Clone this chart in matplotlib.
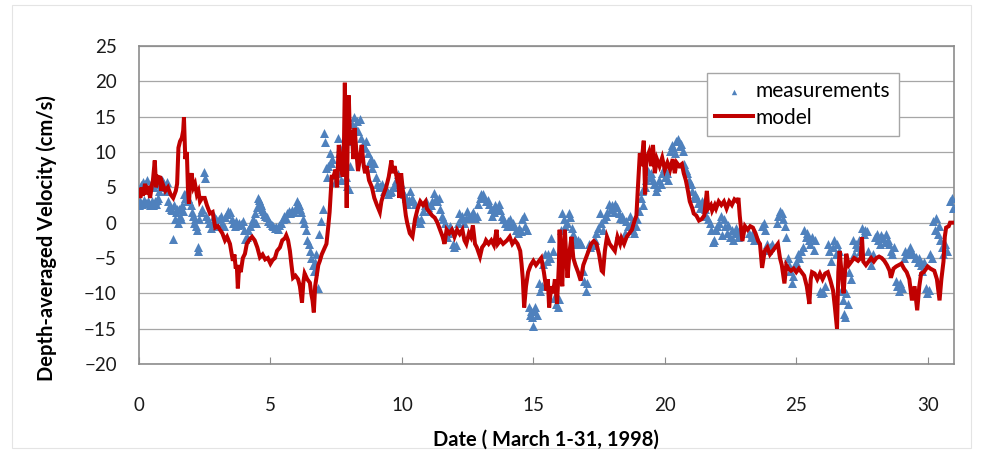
import matplotlib
matplotlib.use("Agg")
import matplotlib.pyplot as plt
from matplotlib.patches import Rectangle

# ---------------- data ----------------
model_day = [
 0.0,0.05,0.1,0.15,0.23,0.3,0.35,0.42,0.5,0.53,0.6,0.65,0.72,0.8,0.85,0.9,1.0,1.1,1.2,1.3,1.4,1.45,1.5,1.56,1.63,1.68,1.71,1.76,1.82,1.86,1.9,1.95,
 2.0,2.07,2.13,2.2,2.26,2.32,2.4,2.5,2.58,2.7,2.8,2.9,3.0,3.08,3.17,3.27,3.35,3.46,3.57,3.63,3.68,3.72,3.76,3.81,3.87,3.95,
 4.03,4.1,4.22,4.3,4.4,4.5,4.6,4.7,4.8,4.9,5.0,5.08,5.17,5.25,5.36,5.45,5.55,5.6,5.67,5.74,5.8,5.86,5.95,
 6.05,6.12,6.2,6.25,6.3,6.4,6.5,6.55,6.6,6.65,6.7,6.76,6.82,6.88,6.95,7.07,7.13,7.2,7.25,7.33,7.4,7.47,7.53,7.6,7.68,7.75,7.8,7.83,7.87,7.9,7.94,7.98,
 8.03,8.1,8.15,8.2,8.27,8.33,8.4,8.47,8.55,8.6,8.66,8.75,8.86,8.95,9.05,9.16,9.22,9.3,9.4,9.5,9.6,9.65,9.72,9.8,9.85,9.9,9.97,
 10.05,10.15,10.2,10.3,10.4,10.5,10.6,10.7,10.8,10.9,10.95,11.05,11.15,11.25,11.35,11.45,11.55,11.62,11.7,11.8,11.9,
 12.0,12.1,12.2,12.3,12.38,12.45,12.55,12.62,12.7,12.78,12.85,12.97,13.05,13.15,13.2,13.3,13.4,13.5,13.6,13.65,13.75,13.85,
 14.0,14.1,14.2,14.3,14.4,14.5,14.55,14.6,14.65,14.72,14.8,14.9,15.0,15.1,15.2,15.3,15.4,15.5,15.55,15.6,15.68,15.75,15.82,15.9,15.97,
 16.0,16.05,16.1,16.15,16.2,16.25,16.3,16.38,16.45,16.52,16.6,16.7,16.8,16.9,17.0,17.1,17.2,17.3,17.4,17.5,17.6,17.65,17.72,17.8,17.9,
 18.0,18.1,18.2,18.3,18.35,18.45,18.55,18.65,18.75,18.85,18.92,18.97,19.05,19.1,19.2,19.25,19.3,19.4,19.48,19.55,19.62,19.7,19.8,19.9,
 20.0,20.1,20.2,20.3,20.38,20.45,20.55,20.65,20.72,20.8,20.88,20.95,21.05,21.1,21.2,21.3,21.4,21.5,21.6,21.65,21.75,21.8,21.9,21.95,
 22.05,22.15,22.25,22.35,22.45,22.55,22.65,22.75,22.8,22.85,22.95,23.05,23.15,23.25,23.35,23.45,23.55,23.62,23.7,23.8,23.9,
 24.0,24.1,24.2,24.3,24.38,24.45,24.55,24.62,24.7,24.8,24.9,25.0,25.1,25.2,25.3,25.4,25.5,25.55,25.6,25.7,25.8,25.9,
 26.0,26.1,26.2,26.3,26.4,26.47,26.55,26.6,26.65,26.72,26.8,26.9,27.0,27.1,27.2,27.35,27.45,27.5,27.55,27.65,27.75,27.85,27.95,
 28.05,28.15,28.25,28.35,28.45,28.55,28.6,28.7,28.8,28.9,29.0,29.1,29.2,29.3,29.4,29.5,29.6,29.68,29.75,29.85,
 30.0,30.1,30.25,30.35,30.45,30.52,30.6,30.65,30.7,30.8,30.85,30.95]
model_vel = [
 4.5,3.5,5,3.8,5.5,4,5.2,3.5,5.5,6,8.8,5,6.5,6.4,4.5,5.5,4.5,5,4,3.5,4.5,5.5,10.6,11.5,12,13,14.9,9,10,5,2.7,6,
 7,5,5.5,4,4.5,3,3.5,3.5,2.5,1.3,1.5,-0.7,-0.5,-1,-1.5,-2.5,-2,-3,-5.4,-4.5,-6.5,-6,-9.3,-6,-7,-5,
 -4.4,-3,-2.3,-2,-2.5,-3.5,-4.9,-4.5,-5.2,-5,-5.8,-5.3,-5,-4,-3.5,-2.5,-2.2,-1.8,-2.5,-4,-6,-7.8,-7.5,
 -8,-9,-11.3,-8.5,-7.2,-8,-8.5,-10,-11,-12.7,-9,-7.5,-6,-5.4,-4.5,-3.5,-3,-0.5,1.5,6.5,6.5,7.5,5,11,8,6.5,12,19.8,9,2.1,12,18,
 11,13,9,13.4,10,7.3,9,11,8,7,8,6,5,3.5,2.5,1.5,3,4,5,6.5,8.8,7,8,6.5,7,3.5,7,
 4,1,0,-1.5,-2,0.5,2,3,2.5,3,2,1.5,1,0.7,0,-1,-2,-3,-1,-1.5,-1,
 -2,-1,-1.6,-1,-2.5,-3,-1.5,-2,-0.4,-3,-3.5,-4.8,-3.5,-3,-2.5,-3,-2.5,-3.2,-1,-3,-2.5,-3,
 -2.5,-2,-3,-2.5,-3,-4,-5.8,-8,-12,-9,-7,-6,-5.4,-6,-5.5,-5,-7,-9.6,-8,-12,-9,-10,-8,-11.5,-6,
 -1,-7,-9,-3,-1,-5,-7.8,-4,-2,-5,-6,-7,-8.2,-6,-5,-4,-3,-2.6,-3,-4.5,-6.8,-7,-4,-2,-3,
 -3.5,-4,-2,-3,-2.2,-3,-2,-1.5,-1,0.3,1,4.5,9.8,8,11.6,4,9,10,8,11,7,9,8,9.2,
 7.5,8.5,7.5,9,7,8.5,8,8.3,7,6,4.5,3,2,1.3,1,0.3,0.5,1,4.5,2,2.5,1.7,2.5,2,
 3,2.5,3,2,3,2.5,3.3,3,3.5,1,-2.6,-0.5,-1,-0.5,-0.7,-1.5,-2.6,-3,-6.4,-4,-3.5,
 -4.5,-4,-3.5,-3,-5,-6,-8.6,-6,-6.5,-6.8,-6.5,-7,-6.5,-7,-7.5,-9,-11.5,-8,-7,-7.2,-8,-7.2,
 -8,-7.2,-7,-8.2,-9.6,-12,-15,-7,-4,-7,-10,-4.4,-6,-5.5,-5,-5.4,-5,-2.1,-5.5,-6,-5.5,-5,-5.5,
 -5,-4.8,-5,-5.4,-6,-6.8,-7.8,-6.5,-6.2,-6,-5.8,-6.5,-7,-8,-11,-9,-12.4,-9,-7.2,-7,
 -6.2,-6.5,-6.8,-8,-11,-8,-5.5,-2,-0.7,-0.5,0,0]

meas_day = [
 0.00,0.04,0.08,0.12,0.16,0.20,0.24,0.28,0.32,0.36,0.40,0.44,0.48,0.52,0.56,0.60,0.64,0.68,0.72,0.76,0.80,0.84,0.88,0.92,0.96,
 1.00,1.04,1.08,1.12,1.16,1.20,1.24,1.28,1.32,1.36,1.40,1.44,1.48,1.52,1.56,1.60,1.64,1.68,1.72,1.76,1.80,1.84,1.88,1.92,1.96,
 2.00,2.04,2.08,2.12,2.16,2.20,2.24,2.26,2.30,2.34,2.40,2.46,2.50,2.56,2.62,2.68,2.74,2.80,2.86,2.92,2.98,
 3.04,3.10,3.16,3.22,3.28,3.34,3.40,3.46,3.52,3.58,3.64,3.70,3.76,3.82,3.88,3.94,
 4.00,4.05,4.10,4.16,4.22,4.28,4.34,4.40,4.44,4.48,4.52,4.56,4.60,4.64,4.68,4.72,4.76,4.80,4.86,4.92,4.98,
 5.04,5.10,5.16,5.22,5.28,5.34,5.40,5.46,5.52,5.58,5.64,5.70,5.76,5.82,5.88,5.94,
 6.00,6.04,6.08,6.12,6.18,6.24,6.28,6.34,6.40,6.46,6.50,6.56,6.60,6.64,6.68,6.74,6.80,6.86,6.92,6.98,
 7.04,7.06,7.12,7.16,7.20,7.26,7.30,7.36,7.42,7.46,7.52,7.58,7.62,7.66,7.70,7.74,7.80,7.86,7.92,7.98,
 8.04,8.08,8.12,8.16,8.22,8.28,8.34,8.40,8.46,8.52,8.58,8.64,8.70,8.76,8.82,8.88,8.94,
 9.00,9.06,9.12,9.18,9.24,9.30,9.36,9.42,9.48,9.54,9.60,9.66,9.72,9.78,9.84,9.90,9.96,
 10.02,10.08,10.14,10.20,10.26,10.32,10.38,10.44,10.50,10.56,10.62,10.68,10.74,10.80,10.86,10.92,10.98,
 11.04,11.10,11.16,11.22,11.28,11.34,11.40,11.46,11.52,11.58,11.64,11.70,11.76,11.82,11.88,11.94,
 12.00,12.06,12.12,12.18,12.24,12.30,12.36,12.42,12.48,12.54,12.60,12.66,12.72,12.78,12.84,12.90,12.96,
 13.02,13.08,13.14,13.20,13.26,13.32,13.38,13.44,13.50,13.56,13.62,13.68,13.74,13.80,13.86,13.92,13.98,
 14.04,14.10,14.16,14.22,14.28,14.34,14.40,14.46,14.52,14.58,14.64,14.70,14.76,14.82,14.86,14.90,14.94,14.98,
 15.02,15.08,15.14,15.20,15.26,15.32,15.38,15.44,15.50,15.56,15.62,15.68,15.74,15.80,15.86,15.92,15.98,
 16.04,16.10,16.16,16.22,16.28,16.34,16.40,16.46,16.52,16.58,16.64,16.70,16.76,16.82,16.88,16.94,
 17.00,17.04,17.10,17.16,17.22,17.28,17.34,17.40,17.46,17.52,17.58,17.64,17.70,17.76,17.82,17.88,17.94,
 18.00,18.06,18.12,18.18,18.24,18.30,18.36,18.42,18.48,18.54,18.60,18.66,18.72,18.78,18.84,18.90,18.96,
 19.02,19.08,19.12,19.18,19.24,19.30,19.36,19.42,19.48,19.54,19.60,19.66,19.72,19.78,19.84,19.90,19.96,
 20.02,20.08,20.14,20.20,20.26,20.32,20.38,20.44,20.50,20.56,20.62,20.68,20.74,20.80,20.86,20.92,20.98,
 21.04,21.10,21.16,21.22,21.28,21.34,21.40,21.46,21.52,21.58,21.64,21.70,21.76,21.82,21.88,21.94,
 22.00,22.06,22.12,22.18,22.24,22.30,22.36,22.42,22.48,22.54,22.60,22.66,22.72,22.78,22.84,
 23.20,23.26,23.32,23.38,23.44,23.70,23.76,23.82,23.88,23.94,
 24.00,24.06,24.26,24.32,24.38,24.44,24.50,24.56,24.62,24.68,24.72,24.76,24.82,24.88,24.94,
 25.00,25.06,25.12,25.18,25.24,25.30,25.36,25.42,25.48,25.54,25.60,25.66,25.72,25.90,25.96,
 26.02,26.10,26.20,26.26,26.32,26.38,26.44,26.50,26.56,26.62,26.70,26.76,26.82,26.86,26.90,26.96,
 27.02,27.08,27.14,27.20,27.26,27.32,27.38,27.44,27.50,27.56,27.62,27.68,27.74,27.80,27.86,27.92,
 28.00,28.06,28.12,28.18,28.24,28.30,28.36,28.42,28.48,28.54,28.60,28.66,28.72,28.78,28.84,28.90,28.96,
 29.02,29.08,29.14,29.20,29.26,29.32,29.38,29.44,29.50,29.56,29.62,29.68,29.74,29.80,29.86,29.92,29.98,
 30.04,30.10,30.16,30.20,30.26,30.32,30.38,30.44,30.48,30.54,30.60,30.66,30.72,30.86,30.92,30.98]
meas_vel = [
 2.5,3.0,5.3,2.6,5.8,3.2,5.5,2.8,6.0,3.0,2.5,5.5,3.0,2.5,5.0,3.0,2.7,3.2,3.5,4.5,5.5,5.0,6.0,5.7,5.2,
 5.0,4.5,5.8,3.0,2.2,2.0,1.8,-2.3,2.5,0.5,1.5,2.0,0.0,2.0,1.0,0.5,2.5,1.7,4.0,3.5,4.2,3.0,3.5,3.0,2.5,
 1.5,1.0,0.0,0.5,-0.5,-1.0,-3.5,-4.0,0.5,1.5,2.0,7.2,6.3,1.0,0.5,0.0,-0.8,0.0,1.0,0.5,-0.5,
 0.5,1.0,0.0,-0.5,0.8,1.2,1.7,1.5,0.5,0.0,-0.5,0.2,-0.3,0.0,-0.2,0.3,
 -1.0,-2.3,-2.0,-1.0,-0.5,0.0,0.5,1.4,0.0,2.2,3.5,3.2,2.8,2.5,2.0,1.6,1.2,1.0,0.8,0.3,0.0,
 -0.3,-0.5,-0.8,-0.6,-0.9,-0.3,0.0,0.5,1.0,0.6,1.3,1.6,1.4,1.8,1.5,2.0,
 3.0,2.7,2.5,2.0,1.5,0.5,0.0,-1.0,-2.5,-3.0,-4.0,-5.0,-6.0,-6.8,-5.5,-4.5,-9.3,-1.6,0.3,2.0,
 12.7,11.4,7.8,6.4,8.0,9.8,8.5,9.0,6.8,5.8,7.0,12.0,9.8,10.5,6.0,7.5,8.0,6.5,5.2,4.8,
 8.0,11.6,14.0,14.9,13.5,14.4,13.0,14.7,12.0,11.2,10.5,11.6,9.8,8.5,9.0,7.8,8.5,
 6.5,5.5,5.0,5.2,5.5,4.5,5.0,4.5,4.1,4.3,4.5,5.0,5.5,6.0,6.9,6.0,5.5,
 4.5,4.0,3.5,2.7,3.2,4.5,3.5,3.0,2.7,0.7,0.3,0.0,0.5,1.7,2.5,3.0,2.2,
 1.7,2.5,3.0,4.2,3.5,3.0,3.5,2.0,1.0,0.5,0.0,-2.0,-1.5,-0.5,-1.0,-3.0,
 -3.5,-3.2,0.0,1.3,0.5,1.0,0.0,0.7,1.7,1.0,0.7,1.2,1.5,0.7,1.0,2.7,3.5,
 4.1,4.0,3.5,3.0,3.2,2.7,2.0,1.0,1.5,2.5,2.0,2.6,1.8,1.0,0.5,0.0,-0.5,
 0.3,0.5,-0.2,0.0,-0.5,-1.0,-1.5,-0.8,-1.2,0.5,1.0,-0.5,-1.0,-12.0,-13.0,-12.5,-13.4,-14.6,
 -12.5,-12.0,-13.0,-8.6,-9.6,-9.0,-5.8,-4.4,-5.4,-4.5,-5.0,-2.1,-4.0,-10.6,-11.5,-12.0,-10.8,
 -1.0,1.4,0.5,-0.5,0.0,1.4,0.8,-0.7,-1.6,-2.3,-3.0,-2.5,-2.8,-3.0,-6.8,-8.2,
 -9.6,-8.5,-3.0,-3.5,-3.2,-3.0,-2.5,-1.5,-0.7,1.3,0.0,-1.0,0.5,1.0,1.5,2.7,2.0,
 2.5,1.5,2.7,2.2,1.3,0.7,1.0,0.5,-1.5,0.3,-0.5,1.0,0.0,-1.0,-1.5,-0.5,0.5,
 1.7,3.5,4.5,2.5,5.0,6.0,7.3,6.5,7.0,6.0,5.5,4.5,5.0,6.0,5.5,7.0,7.8,
 6.5,7.0,6.0,10.2,11.0,10.5,9.8,11.5,11.9,10.8,11.2,10.2,8.3,7.5,7.0,6.0,5.5,
 4.5,3.5,4.0,3.5,2.8,2.1,3.0,2.5,2.0,1.0,0.5,0.0,-1.0,-2.7,-2.5,-1.0,
 -0.5,0.0,1.0,-1.8,0.5,-0.5,-1.5,-0.4,-2.0,-1.0,-2.4,-1.5,-0.8,-2.0,-1.2,
 -1.5,-2.0,-1.6,-2.5,-1.8,-0.5,0.0,-1.0,-3.0,-3.9,
 -3.5,-3.0,0.0,1.0,1.7,1.3,0.5,-0.5,-2.0,-5.0,-6.0,-6.8,-8.6,-7.5,-6.0,
 -5.5,-4.5,-5.0,-4.0,-3.5,-1.1,-2.0,-1.5,-2.5,-3.0,-2.0,-3.9,-2.5,-9.6,-10.0,
 -9.8,-9.0,-3.0,-4.0,-5.4,-3.5,-2.5,-4.4,-3.0,-4.0,-9.6,-11.0,-12.9,-13.4,-10.0,-11.5,
 -7.0,-8.0,-2.5,-4.4,-3.0,-3.5,-2.5,-4.0,-0.7,-1.6,-1.0,-1.2,-4.0,-5.0,-6.0,-4.5,
 -2.0,-1.6,-2.5,-3.0,-1.8,-2.2,-2.8,-1.6,-2.5,-3.0,-4.0,-4.5,-3.5,-8.2,-9.0,-9.6,-8.5,
 -9.2,-5.0,-4.0,-4.4,-4.2,-3.5,-4.0,-4.5,-5.0,-4.8,-5.5,-5.0,-6.0,-6.8,-5.5,-9.2,-10.0,
 -9.5,-4.4,-5.0,0.3,-1.0,0.7,-1.6,-0.5,-2.5,-3.5,-4.4,-3.0,-4.0,3.0,3.5,2.1]

x_ticks = [0, 5, 10, 15, 20, 25, 30]
y_ticks = [-20, -15, -10, -5, 0, 5, 10, 15, 20, 25]

# ---------------- figure ----------------
plt.rcParams['font.family'] = ['Lato', 'DejaVu Sans']
W, H = 981, 453
fig = plt.figure(figsize=(W / 100, H / 100), dpi=100)
fig.patch.set_facecolor('white')
fig.patches.append(Rectangle((0.012, 0.012), 0.978, 0.976, transform=fig.transFigure,
                             fill=False, edgecolor='#e4e4e4', linewidth=0.8))

ax = fig.add_axes([139 / W, 1 - 364 / H, (954 - 139) / W, (364 - 46) / H])
ax.scatter(meas_day, meas_vel, marker='^', s=42, color='#4F81BD', linewidths=0,
           label='measurements', zorder=3)
ax.plot(model_day, model_vel, color='#C00000', linewidth=2.9, label='model', zorder=4,
        solid_joinstyle='miter')

ax.set_xlim(0, 31)
ax.set_ylim(-20, 25)
ax.set_xticks(x_ticks)
ax.set_yticks(y_ticks)
ax.yaxis.grid(True, color='#a6a6a6', linewidth=0.9)
ax.set_axisbelow(True)
for s in ax.spines.values():
    s.set_color('#8c8c8c')
    s.set_linewidth(1.2)
ax.tick_params(axis='x', direction='in', length=5, width=0.8, color='#8c8c8c',
               pad=24, labelsize=13.5, labelcolor='#1a1a1a')
ax.tick_params(axis='y', length=0, pad=16, labelsize=13.5, labelcolor='#1a1a1a')

fig.text(47 / W, 1 - 238 / H, 'Depth-averaged Velocity (cm/s)', rotation=90,
         ha='center', va='center', fontsize=14.5, fontweight='bold')
fig.text(546 / W, 1 - 440 / H, 'Date ( March 1-31, 1998)', ha='center', va='center',
         fontsize=14.5, fontweight='bold')

leg = ax.legend(loc='upper left', bbox_to_anchor=((707 - 139) / 815, (364 - 73) / 318),
                fontsize=15, frameon=True, fancybox=False, framealpha=1,
                edgecolor='#a6a6a6', borderpad=0.4, handlelength=1.8,
                handletextpad=0.15, labelspacing=0.3, borderaxespad=0,
                markerscale=0.6)
leg.get_frame().set_linewidth(1.0)

fig.savefig('out.png', dpi=100, facecolor='white')
